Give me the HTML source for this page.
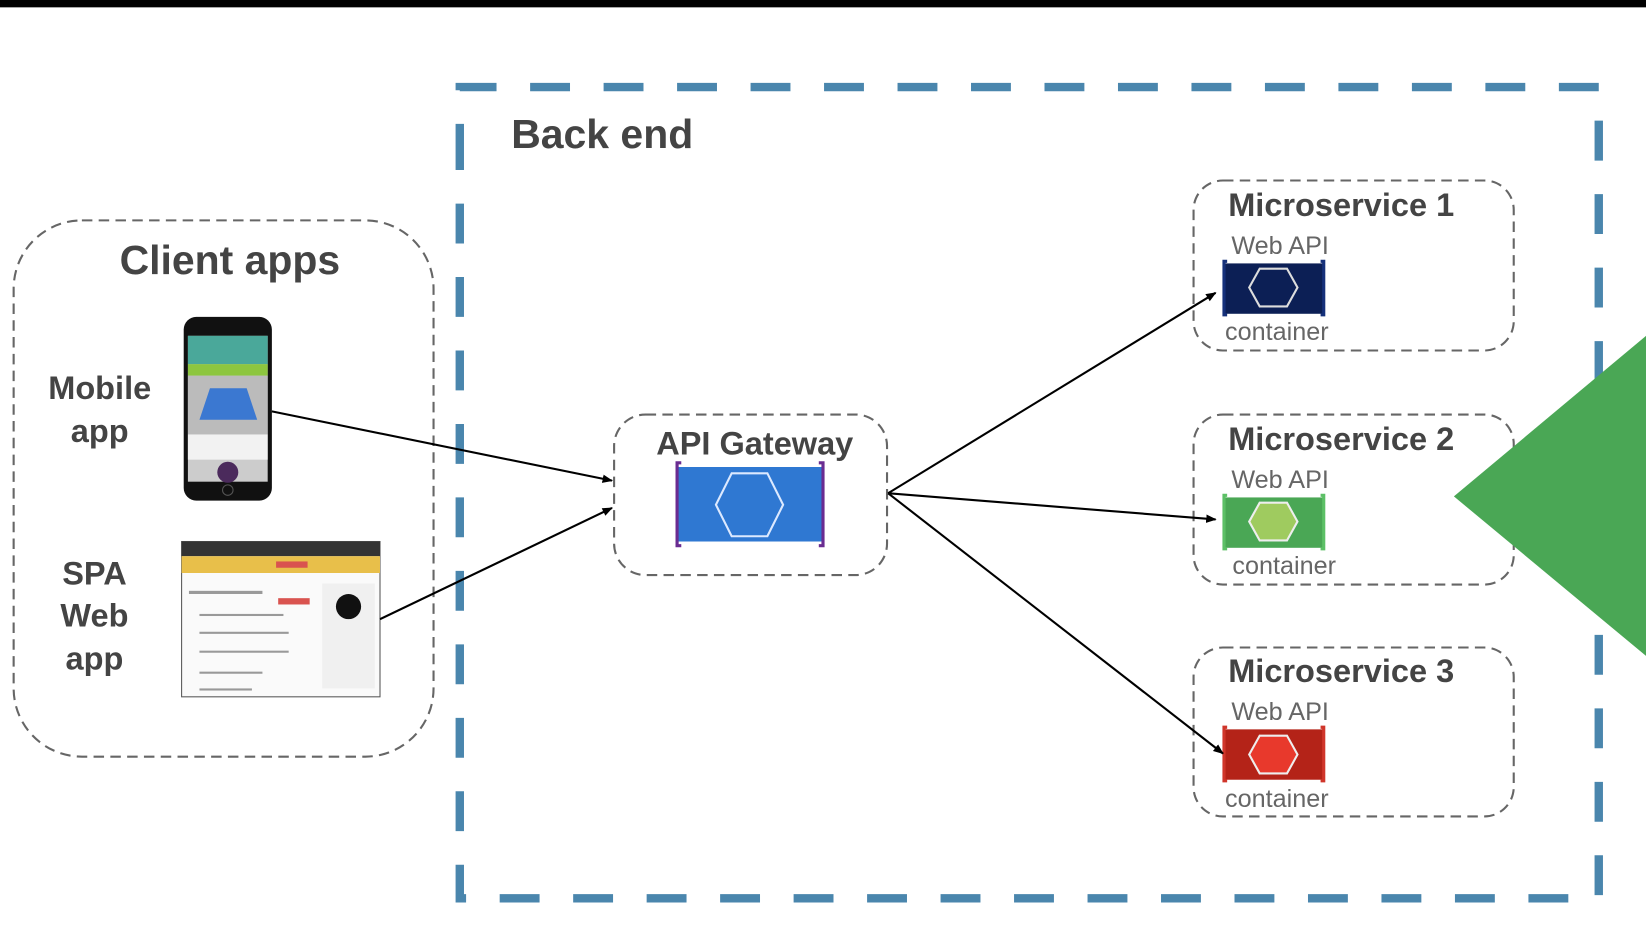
<!DOCTYPE html>
<html><head><meta charset="utf-8"><style>
html,body{margin:0;padding:0;background:#fff;width:1646px;height:934px;overflow:hidden}
svg{display:block}
text{font-family:"Liberation Sans",sans-serif}
</style></head><body>
<svg width="1646" height="934" viewBox="0 0 1568 890" preserveAspectRatio="none" xmlns="http://www.w3.org/2000/svg">
<defs>
<marker id="ah" markerWidth="10" markerHeight="8" refX="9" refY="4" orient="auto" markerUnits="userSpaceOnUse"><path d="M0,0 L10,4 L0,8 Z" fill="#000"/></marker>
</defs>
<rect x="0" y="0" width="1568" height="7" fill="#000"/>
<!-- Back end -->
<path d="M438,156 L438,83 L1523,83 L1523,856 L438,856 Z" fill="none" stroke="#4a86ad" stroke-width="8" stroke-dasharray="38,32"/>
<text x="487" y="141" font-size="39" font-weight="bold" fill="#444">Back end</text>
<!-- Client apps -->
<rect x="13" y="210" width="400" height="511" rx="65" fill="none" stroke="#666" stroke-width="2" stroke-dasharray="10,6"/>
<text x="219" y="261" font-size="39" font-weight="bold" fill="#444" text-anchor="middle">Client apps</text>
<text x="95" y="380" font-size="31" font-weight="bold" fill="#444" text-anchor="middle">Mobile</text>
<text x="95" y="421" font-size="31" font-weight="bold" fill="#444" text-anchor="middle">app</text>
<text x="90" y="557" font-size="31" font-weight="bold" fill="#444" text-anchor="middle">SPA</text>
<text x="90" y="597" font-size="31" font-weight="bold" fill="#444" text-anchor="middle">Web</text>
<text x="90" y="638" font-size="31" font-weight="bold" fill="#444" text-anchor="middle">app</text>
<!-- phone -->
<rect x="175" y="302" width="84" height="175" rx="12" fill="#111"/>
<rect x="179" y="320" width="76" height="139" fill="#ccc"/>
<rect x="179" y="320" width="76" height="27" fill="#4aa89a"/>
<rect x="179" y="347" width="76" height="11" fill="#8dc63f"/>
<rect x="179" y="358" width="76" height="56" fill="#bbb"/>
<path d="M200,370 L235,370 L245,400 L190,400 Z" fill="#3b78d1"/>
<rect x="179" y="414" width="76" height="24" fill="#f2f2f2"/>
<circle cx="217" cy="450" r="10" fill="#4b2a5c"/>
<circle cx="217" cy="467" r="5" fill="none" stroke="#555"/>
<!-- browser -->
<rect x="173" y="516" width="189" height="148" fill="#fafafa" stroke="#555"/>
<rect x="173" y="516" width="189" height="14" fill="#333"/>
<rect x="173" y="530" width="189" height="16" fill="#e8bf4a"/>
<rect x="263" y="535" width="30" height="6" fill="#d9534f"/>
<rect x="307" y="556" width="50" height="100" fill="#f0f0f0"/>
<circle cx="332" cy="578" r="12" fill="#111"/>
<g fill="#999"><rect x="180" y="563" width="70" height="3"/><rect x="190" y="585" width="80" height="2"/><rect x="190" y="602" width="85" height="2"/><rect x="190" y="620" width="85" height="2"/><rect x="190" y="640" width="60" height="2"/><rect x="190" y="656" width="50" height="2"/></g>
<rect x="265" y="570" width="30" height="6" fill="#d9534f"/>
<!-- API gateway -->
<rect x="585" y="395" width="260" height="153" rx="30" fill="none" stroke="#666" stroke-width="2" stroke-dasharray="10,6"/>
<text x="719" y="433" font-size="31" font-weight="bold" fill="#444" text-anchor="middle">API Gateway</text>
<rect x="646" y="445" width="137" height="71" fill="#2f78d2"/>
<path d="M649,441 L645,441 L645,520 L649,520 M780,441 L784,441 L784,520 L780,520" fill="none" stroke="#6a2c91" stroke-width="3"/>
<polygon points="682,481 697,451 731,451 746,481 731,511 697,511" fill="none" stroke="#dce9ff" stroke-width="2"/>
<!-- Microservices -->
<g>
<rect x="1137" y="172" width="305" height="162" rx="28" fill="none" stroke="#666" stroke-width="2" stroke-dasharray="10,6"/>
<text x="1170" y="206" font-size="31" font-weight="bold" fill="#444">Microservice 1</text>
<text x="1173" y="242" font-size="24" fill="#666">Web API</text>
<rect x="1166" y="251" width="95" height="48" fill="#0c1f55"/>
<path d="M1169,249 L1166,249 L1166,300 L1169,300 M1258,249 L1261,249 L1261,300 L1258,300" fill="none" stroke="#15307a" stroke-width="3"/>
<polygon points="1190,274 1200,256 1226,256 1236,274 1226,292 1200,292" fill="none" stroke="#ddd" stroke-width="2"/>
<text x="1167" y="324" font-size="24" fill="#666">container</text>
</g>
<g>
<rect x="1137" y="395" width="305" height="162" rx="28" fill="none" stroke="#666" stroke-width="2" stroke-dasharray="10,6"/>
<text x="1170" y="429" font-size="31" font-weight="bold" fill="#444">Microservice 2</text>
<text x="1173" y="465" font-size="24" fill="#666">Web API</text>
<rect x="1166" y="474" width="95" height="48" fill="#4aa755"/>
<path d="M1169,472 L1166,472 L1166,523 L1169,523 M1258,472 L1261,472 L1261,523 L1258,523" fill="none" stroke="#5cc066" stroke-width="3"/>
<polygon points="1190,497 1200,479 1226,479 1236,497 1226,515 1200,515" fill="#9fcb5f" stroke="#eee" stroke-width="2"/>
<text x="1174" y="547" font-size="24" fill="#666">container</text>
</g>
<g>
<rect x="1137" y="617" width="305" height="161" rx="28" fill="none" stroke="#666" stroke-width="2" stroke-dasharray="10,6"/>
<text x="1170" y="650" font-size="31" font-weight="bold" fill="#444">Microservice 3</text>
<text x="1173" y="686" font-size="24" fill="#666">Web API</text>
<rect x="1166" y="695" width="95" height="48" fill="#b42318"/>
<path d="M1169,693 L1166,693 L1166,744 L1169,744 M1258,693 L1261,693 L1261,744 L1258,744" fill="none" stroke="#d0352a" stroke-width="3"/>
<polygon points="1190,719 1200,701 1226,701 1236,719 1226,737 1200,737" fill="#e8392c" stroke="#eee" stroke-width="2"/>
<text x="1167" y="769" font-size="24" fill="#666">container</text>
</g>
<!-- arrows -->
<g stroke="#000" stroke-width="2" fill="none" marker-end="url(#ah)">
<line x1="259" y1="392" x2="583" y2="458"/>
<line x1="362" y1="590" x2="583" y2="484"/>
<line x1="846" y1="470" x2="1158" y2="279"/>
<line x1="846" y1="470" x2="1158" y2="495"/>
<line x1="846" y1="470" x2="1165" y2="718"/>
</g>
<!-- green triangle -->
<polygon points="1385,473 1568,320 1568,625" fill="#4aa755"/>
</svg>
</body></html>
